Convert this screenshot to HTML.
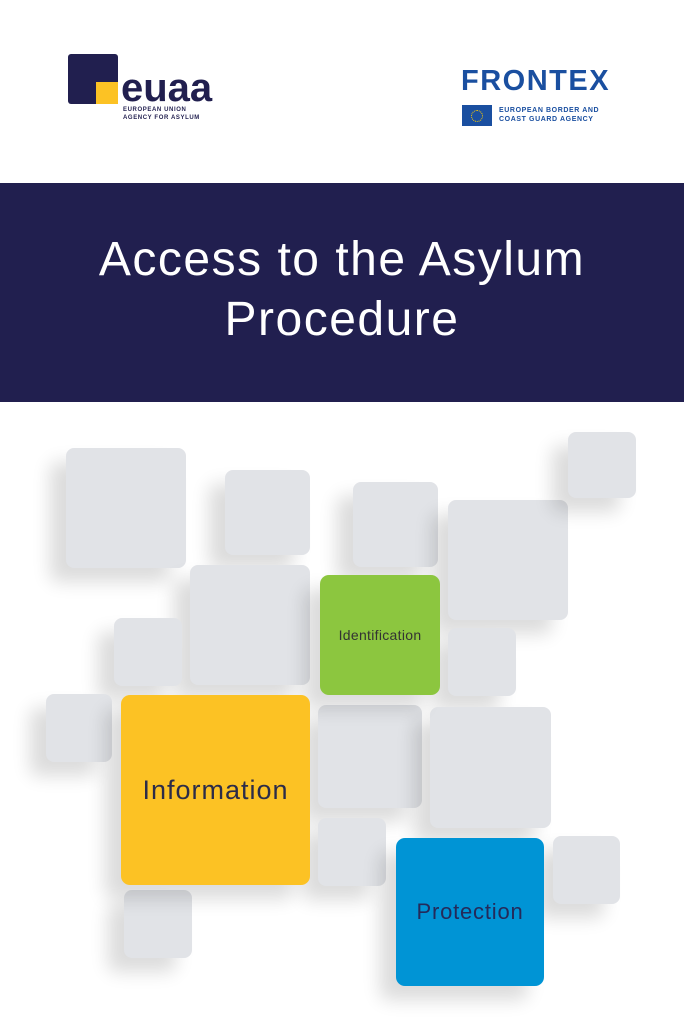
<!DOCTYPE html>
<html><head><meta charset="utf-8"><style>
body{margin:0;width:684px;height:1024px;background:#fff;position:relative;overflow:hidden;font-family:"Liberation Sans",sans-serif}
.b{position:absolute;background:#e1e3e7;border-radius:8px;box-shadow:-16px 14px 18px rgba(0,0,0,0.14)}
.t{position:absolute;display:flex;align-items:center;justify-content:center;border-radius:9px;box-shadow:-16px 14px 18px rgba(0,0,0,0.14)}
</style></head><body>
<div style="position:absolute;left:68px;top:54px;width:50px;height:50px;background:#211f4f;border-radius:3px"></div>
<div style="position:absolute;left:96px;top:82px;width:22px;height:22px;background:#fcc224"></div>
<div style="position:absolute;left:121px;top:70px;font-size:40px;font-weight:bold;color:#211f4f;line-height:36px;letter-spacing:0px">euaa</div>
<div style="position:absolute;left:123px;top:106px;font-size:6px;font-weight:bold;color:#211f4f;line-height:8px;letter-spacing:0.6px">EUROPEAN UNION<br>AGENCY FOR ASYLUM</div>
<div style="position:absolute;left:461px;top:66px;font-size:29px;font-weight:bold;color:#1a4fa0;line-height:30px;letter-spacing:1.5px">FRONTEX</div>
<div style="position:absolute;left:462px;top:105px;width:30px;height:21px;background:#1a4fa0"></div>
<div style="position:absolute;left:471px;top:110px;width:10px;height:10px;border:1px dotted #fc0;border-radius:50%"></div>
<div style="position:absolute;left:499px;top:106px;font-size:7px;font-weight:bold;color:#1a4fa0;line-height:9px;letter-spacing:0.6px">EUROPEAN BORDER AND<br>COAST GUARD AGENCY</div>
<div style="position:absolute;left:0;top:183px;width:684px;height:219px;background:#211f4f"></div>
<div style="position:absolute;left:0;top:230px;width:684px;text-align:center;color:#fff;font-size:48px;line-height:60px;letter-spacing:1.5px">Access to the Asylum<br>Procedure</div>
<div class="b" style="left:66px;top:448px;width:120px;height:120px"></div>
<div class="b" style="left:225px;top:470px;width:85px;height:85px"></div>
<div class="b" style="left:353px;top:482px;width:85px;height:85px"></div>
<div class="b" style="left:448px;top:500px;width:120px;height:120px"></div>
<div class="b" style="left:568px;top:432px;width:68px;height:66px"></div>
<div class="b" style="left:190px;top:565px;width:120px;height:120px"></div>
<div class="b" style="left:114px;top:618px;width:68px;height:68px"></div>
<div class="b" style="left:448px;top:628px;width:68px;height:68px"></div>
<div class="b" style="left:46px;top:694px;width:66px;height:68px"></div>
<div class="b" style="left:318px;top:705px;width:104px;height:103px"></div>
<div class="b" style="left:430px;top:707px;width:121px;height:121px"></div>
<div class="b" style="left:318px;top:818px;width:68px;height:68px"></div>
<div class="b" style="left:124px;top:890px;width:68px;height:68px"></div>
<div class="b" style="left:553px;top:836px;width:67px;height:68px"></div>
<div class="t" style="left:320px;top:575px;width:120px;height:120px;background:#8cc63f;font-size:14px;letter-spacing:0.3px;color:#333">Identification</div>
<div class="t" style="left:121px;top:695px;width:189px;height:190px;background:#fcc224;font-size:27px;letter-spacing:1px;color:#2c2c48">Information</div>
<div class="t" style="left:396px;top:838px;width:148px;height:148px;background:#0094d5;font-size:22px;letter-spacing:0.8px;color:#242a5a">Protection</div>
</body></html>
